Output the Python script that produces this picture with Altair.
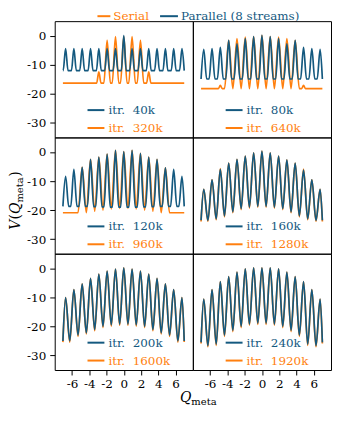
import altair as alt
import pandas as pd

FONT = "DejaVu Serif"
ORANGE = "#ff7f0e"
BLUE = "#14597f"

# x positions of the 15 potential wells
PEAK_X = [-6.74, -5.78, -4.82, -3.85, -2.89, -1.93, -0.96, 0.0,
          0.96, 1.93, 2.89, 3.85, 4.82, 5.78, 6.74]
X_START, X_END = -7.05, 7.0
HALF = 0.4815

X_TICKS = [-6, -4, -2, 0, 2, 4, 6]
Y_TICKS = [-30, -20, -10, 0]

LABELS_PAR = ["itr. \u00a040k", "itr. \u00a080k", "itr. \u00a0120k",
              "itr. \u00a0160k", "itr. \u00a0200k", "itr. \u00a0240k"]
LABELS_SER = ["itr. \u00a0320k", "itr. \u00a0640k", "itr. \u00a0960k",
              "itr. \u00a01280k", "itr. \u00a01600k", "itr. \u00a01920k"]

N = None
# ---- panel 1 ----
P1_PAR_PEAKS = [-4.4, -4.4, -4.4, -4.4, -4.4, -4.4, -4.4, 0.0,
                -4.4, -4.4, -4.4, -4.4, -4.4, -4.4, -4.4]
P1_PAR_TROUGHS = [-12.0] * 16
P1_PAR_W = 0.28
P1_SER_PEAKS = [N, N, N, N, -12.4, -1.6, -0.3, -0.3, -0.3, -1.6, -12.4, N, N, N, N]
P1_SER_TROUGHS = [-16.3] * 16
P1_SER_W = [0.25] * 5 + [0.38] * 5 + [0.25] * 5

# ---- panel 2 ----
P2_PAR_PEAKS = [-4.7, -4.4, -4.0, -1.6, -2.8, -1.0, -0.3, 0.1,
                -0.3, -1.0, -2.8, -1.6, -4.0, -4.4, -4.7]
P2_PAR_TROUGHS = [-14.9] * 16
P2_PAR_W = 0.34
P2_SER_PEAKS = [N, N, -17.1, -1.6, -1.0, -0.5, -0.3, 0.1, -0.3, -0.5, -1.0, -1.6, -17.1, N, N]
P2_SER_TROUGHS = [-18.2] * 16
P2_SER_W = [0.22] * 3 + [HALF] * 9 + [0.22] * 3

# ---- panel 3 ----
P3_PAR_PEAKS = [-8.4, -6.0, -5.3, -2.5, -1.8, -0.7, 0.6, 0.15,
                0.6, -0.5, -1.8, -2.5, -5.5, -6.0, -8.4]
P3_PAR_TROUGHS = [-18.7, -18.7, -18.7, -18.7, -18.8, -18.9, -19.0, -19.0,
                  -19.0, -19.0, -18.9, -18.8, -18.7, -18.7, -18.7, -18.7]
P3_PAR_W = 0.36
P3_SER_PEAKS = [N, N, -5.3, -2.5, -1.8, -0.7, 0.6, 0.15, 0.6, -0.5, -1.8, -2.5, -5.5, N, N]
P3_SER_TROUGHS = [-20.9, -20.9, -20.9, -20.9, -20.4, -20.0, -19.6, -19.4,
                  -19.4, -19.6, -20.0, -20.4, -20.9, -20.9, -20.9, -20.9]
P3_SER_W = HALF

# ---- panel 4 ----
P4_PAR_PEAKS = [-12.85, -9.55, -6.0, -3.8, -2.5, -1.4, -0.3, 0.26,
                -0.3, -1.4, -2.7, -3.8, -6.2, -9.55, -12.85]
P4_PAR_TROUGHS = [-23.5, -23.5, -23.0, -22.0, -20.6, -19.5, -19.0, -18.7,
                  -18.7, -19.0, -19.5, -20.6, -22.0, -23.0, -23.5, -23.5]
P4_SER_PEAKS = [-12.85, -9.55, -5.7, -3.8, -2.5, -1.4, -0.3, 0.26,
                -0.3, -1.4, -2.7, -3.8, -5.9, -9.55, -12.85]
P4_SER_TROUGHS = [-23.9, -23.8, -23.3, -22.3, -20.9, -19.8, -19.3, -19.0,
                  -19.0, -19.3, -19.8, -20.9, -22.3, -23.3, -23.8, -23.9]

# ---- panel 5 ----
P5_PAR_PEAKS = [-10.1, -7.3, -5.4, -3.5, -2.0, -0.95, -0.3, 0.1,
                -0.3, -0.95, -2.0, -3.5, -5.4, -7.3, -10.1]
P5_PAR_TROUGHS = [-25.0, -25.0, -23.0, -22.2, -21.1, -20.0, -19.5, -19.2,
                  -19.2, -19.5, -20.0, -21.1, -22.2, -23.0, -25.0, -25.0]
P5_SER_PEAKS = [-10.1, -7.3, -5.4, -3.5, -2.0, -0.95, -0.3, 0.1,
                -0.3, -0.95, -2.0, -3.5, -5.4, -7.3, -10.1]
P5_SER_TROUGHS = [-25.4, -25.4, -23.4, -22.6, -21.5, -20.4, -19.9, -19.6,
                  -19.6, -19.9, -20.4, -21.5, -22.6, -23.4, -25.4, -25.4]

# ---- panel 6 ----
P6_PAR_PEAKS = [-10.6, -7.3, -4.6, -2.9, -1.3, -0.2, 0.15, 0.15,
                0.15, -0.2, -1.3, -2.9, -4.6, -7.3, -10.6]
P6_PAR_TROUGHS = [-25.5, -26.6, -26.1, -23.0, -21.4, -20.0, -19.2, -18.9,
                  -18.9, -19.2, -20.0, -21.4, -23.0, -26.1, -26.6, -25.5]
P6_SER_PEAKS = [-10.6, -7.3, -4.6, -2.9, -1.3, -0.2, 0.15, 0.15,
                0.15, -0.2, -1.3, -2.9, -4.6, -7.3, -10.6]
P6_SER_TROUGHS = [-25.9, -27.0, -26.5, -23.4, -21.8, -20.4, -19.6, -19.3,
                  -19.3, -19.6, -20.4, -21.8, -23.4, -26.5, -27.0, -25.9]

PANELS = [
    (P1_PAR_PEAKS, P1_PAR_TROUGHS, P1_PAR_W, P1_SER_PEAKS, P1_SER_TROUGHS, P1_SER_W),
    (P2_PAR_PEAKS, P2_PAR_TROUGHS, P2_PAR_W, P2_SER_PEAKS, P2_SER_TROUGHS, P2_SER_W),
    (P3_PAR_PEAKS, P3_PAR_TROUGHS, P3_PAR_W, P3_SER_PEAKS, P3_SER_TROUGHS, P3_SER_W),
    (P4_PAR_PEAKS, P4_PAR_TROUGHS, HALF, P4_SER_PEAKS, P4_SER_TROUGHS, HALF),
    (P5_PAR_PEAKS, P5_PAR_TROUGHS, HALF, P5_SER_PEAKS, P5_SER_TROUGHS, HALF),
    (P6_PAR_PEAKS, P6_PAR_TROUGHS, HALF, P6_SER_PEAKS, P6_SER_TROUGHS, HALF),
]

PW, PH = 139, 117


def series(peaks, troughs, widths):
    pts = [(X_START, troughs[0])]
    for k, p in enumerate(peaks):
        if p is None:
            continue
        w = widths[k] if isinstance(widths, list) else widths
        xk = PEAK_X[k]
        if xk - w > pts[-1][0] + 0.01:
            pts.append((xk - w, troughs[k]))
        pts.append((xk, p))
        if xk + w < X_END - 0.01:
            pts.append((xk + w, troughs[k + 1]))
    if pts[-1][0] < X_END - 0.01:
        pts.append((X_END, troughs[-1]))
    return pd.DataFrame(pts, columns=["x", "y"])


def one(text):
    return pd.DataFrame({"t": [text]})


def label(text, x, y, color, size=12, style="normal", align="left",
          baseline="middle", angle=0, dx=0, dy=0):
    return alt.Chart(one(text)).mark_text(
        font=FONT, fontSize=size, fontStyle=style, color=color, align=align,
        baseline=baseline, angle=angle, dx=dx, dy=dy
    ).encode(x=alt.value(x), y=alt.value(y), text="t:N")


def seg(x1, x2, y, color):
    return alt.Chart(one("s")).mark_rule(color=color, strokeWidth=2).encode(
        x=alt.value(x1), x2=alt.value(x2), y=alt.value(y))


charts = []
for i, (pp, pt, pw, sp, st, sw) in enumerate(PANELS):
    row, col = divmod(i, 2)
    if row == 2:
        xaxis = alt.Axis(values=X_TICKS, labelExpr="'' + datum.value", title=None,
                         labelPadding=4)
    else:
        xaxis = None
    if col == 0:
        yaxis = alt.Axis(values=Y_TICKS, labelExpr="'' + datum.value", title=None,
                         labelPadding=4)
    else:
        yaxis = None
    xs = alt.Scale(domain=[-8, 8], nice=False, zero=False)
    ys = alt.Scale(domain=[-35, 5], nice=False, zero=False)

    ser = alt.Chart(series(sp, st, sw)).mark_line(
        color=ORANGE, strokeWidth=1.7, interpolate="monotone", clip=True
    ).encode(x=alt.X("x:Q", scale=xs, axis=xaxis), y=alt.Y("y:Q", scale=ys, axis=yaxis))
    par = alt.Chart(series(pp, pt, pw)).mark_line(
        color=BLUE, strokeWidth=1.7, interpolate="monotone", clip=True
    ).encode(x=alt.X("x:Q", scale=xs, axis=xaxis), y=alt.Y("y:Q", scale=ys, axis=yaxis))

    layers = [ser, par,
              seg(33, 50, 89.5, BLUE), label(LABELS_PAR[i], 54, 89.5, BLUE),
              seg(33, 50, 107.5, ORANGE), label(LABELS_SER[i], 54, 107.5, ORANGE)]

    if i == 0:
        layers += [seg(43, 56, -5, ORANGE), label("Serial", 59, -5, ORANGE),
                   seg(106, 124, -5, BLUE), label("Parallel (8 streams)", 127, -5, BLUE)]
    if i == 2:
        bx, by = -35, 93
        layers += [
            label("V", bx, by, "black", size=14, style="italic", baseline="alphabetic", angle=270, dx=0),
            label("(", bx, by, "black", size=14, baseline="alphabetic", angle=270, dx=10.5),
            label("Q", bx, by, "black", size=14, style="italic", baseline="alphabetic", angle=270, dx=16),
            label("meta", bx, by, "black", size=10, baseline="alphabetic", angle=270, dx=27.5, dy=3.5),
            label(")", bx, by, "black", size=14, baseline="alphabetic", angle=270, dx=53.5),
        ]
    if i == 4:
        qx, qy = 126, 149
        layers += [
            label("Q", qx, qy, "black", size=14, style="italic", baseline="alphabetic"),
            label("meta", qx, qy, "black", size=10, baseline="alphabetic", dx=11.5, dy=3.5),
        ]
    charts.append(alt.layer(*layers).properties(width=PW, height=PH))

chart = alt.concat(*charts, columns=2, spacing=0, bounds="flush").properties(
    padding={"left": 0, "top": 0, "right": 0, "bottom": 0}
).configure_view(
    stroke="black", strokeWidth=1
).configure_axis(
    domain=False, grid=False, ticks=True, tickColor="black", tickSize=5,
    labelFont=FONT, labelFontSize=12, labelColor="black"
)

chart.save("out.html", embed_options={"renderer": "svg", "actions": False})
